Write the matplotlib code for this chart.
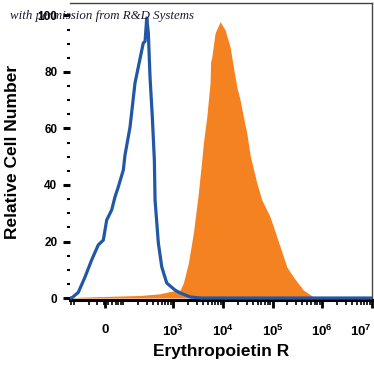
import numpy as np
import matplotlib
matplotlib.use("Agg")
import matplotlib.pyplot as plt

plt.rcParams['font.family'] = ['Liberation Sans', 'DejaVu Sans']
plt.rcParams['mathtext.fontset'] = 'custom'
plt.rcParams['mathtext.bf'] = 'Liberation Sans:bold'
plt.rcParams['mathtext.rm'] = 'Liberation Sans:bold'

# x in display decades (biexponential axis), y = relative cell number
isotype_x = [0.93, 0.962, 1.095, 1.229, 1.364, 1.497, 1.598, 1.666, 1.767, 1.833, 1.899,
             2.0, 2.034, 2.135, 2.235, 2.402, 2.437, 2.471, 2.503, 2.537, 2.583, 2.624,
             2.638, 2.704, 2.773, 2.873, 3.04, 3.141, 3.241, 3.342, 3.543, 7.0]
isotype_y = [0, 0, 2.0, 7.4, 13.5, 18.8, 20.5, 27.6, 31.2, 35.8, 39.3,
             45.3, 50.6, 60.5, 76.1, 90.3, 90.8, 99.1, 93.8, 78.2, 64.1, 48.8,
             34.7, 19.5, 11.0, 5.3, 2.8, 1.8, 1.1, 0.4, 0, 0]

epor_x = [0.928, 1.129, 1.531, 1.934, 2.336, 2.738, 2.94, 3.141, 3.207, 3.308, 3.408,
          3.509, 3.577, 3.61, 3.678, 3.744, 3.755, 3.779, 3.845, 3.946, 4.046, 4.147,
          4.213, 4.282, 4.348, 4.414, 4.482, 4.549, 4.684, 4.785, 4.952, 5.087,
          5.288, 5.421, 5.622, 5.823, 5.958, 7.0]
epor_y = [0, 0.3, 0.5, 0.7, 0.9, 1.5, 2.3, 2.8, 5.3, 12.4, 23.0,
          37.2, 48.8, 54.9, 64.1, 76.1, 83.5, 85.3, 93.8, 97.8, 94.9, 88.8,
          81.8, 74.7, 70.1, 64.1, 58.4, 50.6, 40.7, 34.7, 28.7, 21.6,
          11.0, 7.4, 2.8, 0.4, 0, 0]

xtick_pos = [1.63, 3, 4, 5, 6, 7]
xtick_labels = ['0', r'$\mathbf{10^3}$', r'$\mathbf{10^4}$', r'$\mathbf{10^5}$',
                r'$\mathbf{10^6}$', r'$\mathbf{10^7}$']
ytick_pos = [0, 20, 40, 60, 80, 100]

fig = plt.figure(figsize=(3.74, 3.65), dpi=100)
ax = fig.add_axes([70 / 374, 65 / 365, 302 / 374, 297 / 365])

ax.fill_between(epor_x, epor_y, 0, color='#f58220', linewidth=0, zorder=2)
ax.plot(isotype_x, isotype_y, color='#2157a4', linewidth=2.3, zorder=3,
        solid_joinstyle='round')

ax.set_xlim(0.928, 7.0)
ax.set_ylim(-0.7, 104.4)

# axis ticks
ax.set_yticks(ytick_pos)
ax.set_yticks(np.arange(5, 105, 5), minor=True)
ax.set_xticks(xtick_pos)
ax.set_xticklabels(xtick_labels)
minor = [n + np.log10(k) for n in range(0, 7) for k in range(2, 10)]
minor = [m for m in minor if 0.93 < m < 7.0] + [1.0, 2.0]
ax.set_xticks(minor, minor=True)

ax.tick_params(axis='y', which='major', length=5, width=2.2, pad=4,
               labelsize=8.5)
ax.tick_params(axis='y', which='minor', length=2, width=1.5)
ax.tick_params(axis='x', which='major', length=6, width=2, pad=11,
               labelsize=9.5)
ax.tick_params(axis='x', which='minor', length=3.5, width=1.2)
for lab in ax.get_yticklabels() + ax.get_xticklabels():
    lab.set_fontweight('bold')
ax.get_xticklabels()[-1].set_horizontalalignment('right')

ax.spines['left'].set_visible(False)
ax.spines['bottom'].set_linewidth(2.2)
ax.spines['bottom'].set_color('black')
for s in ['top', 'right']:
    ax.spines[s].set_linewidth(1.0)
    ax.spines[s].set_color('#444444')

ax.set_xlabel('Erythropoietin R', fontsize=12.5, fontweight='bold', labelpad=4)
ax.set_ylabel('Relative Cell Number', fontsize=12.5, fontweight='bold', labelpad=13)

fig.text(10 / 374, 1 - 16 / 365, 'with permission from R&D Systems',
         fontsize=9.3, style='italic', family='Liberation Serif',
         color='#1a1a33', va='center', ha='left')

fig.savefig('out.png', dpi=100)
